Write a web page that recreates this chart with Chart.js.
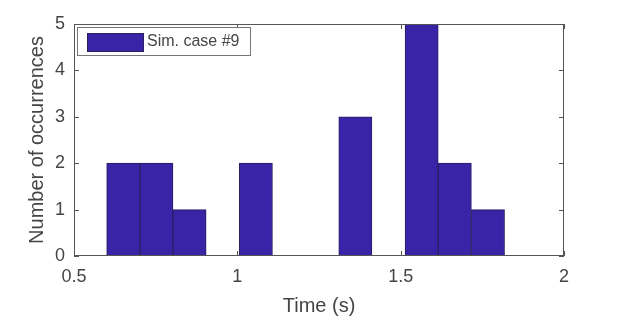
<!DOCTYPE html>
<html>
<head>
<meta charset="utf-8">
<script src="https://cdn.jsdelivr.net/npm/chart.js@4/dist/chart.umd.min.js"></script>
<style>
    html, body { margin: 0; padding: 0; background: #fff; }
    #wrap { width: 628px; height: 324px; }
</style>
</head>
<body>
<div id="wrap"><canvas id="chartCanvas" width="628" height="324"></canvas></div>
<script>
// histogram bins (left edges, seconds) and counts
const binStart = 0.6;
const binWidth = 0.1015;
const counts = [2, 2, 1, 0, 2, 0, 0, 3, 0, 5, 2, 1];
const seriesLabel = "Sim. case #9";
const xTicks = [0.5, 1, 1.5, 2];
const yTicks = [0, 1, 2, 3, 4, 5];

const barColor = "#3923a6";
const edgeColor = "#2a2060";
const axisColor = "#555555";
const textColor = "#454545";
const font = "'Liberation Sans', Arial, sans-serif";

const points = counts.map((c, i) => ({
    x: binStart + binWidth * (i + 0.5),
    y: c === 0 ? null : c
}));

// box + inward tick marks like matlab
const boxPlugin = {
    id: "box",
    afterDraw(chart) {
        const ctx = chart.ctx;
        const a = chart.chartArea;
        const xs = chart.scales.x;
        const ys = chart.scales.y;
        ctx.save();
        ctx.strokeStyle = axisColor;
        ctx.lineWidth = 1;
        ctx.strokeRect(a.left + 0.5, a.top + 0.5, a.right - a.left - 1, a.bottom - a.top - 1);
        ctx.beginPath();
        xTicks.forEach(v => {
            const px = Math.round(xs.getPixelForValue(v)) + 0.5;
            ctx.moveTo(px, a.bottom);
            ctx.lineTo(px, a.bottom - 5);
            ctx.moveTo(px, a.top);
            ctx.lineTo(px, a.top + 5);
        });
        yTicks.forEach(v => {
            const py = Math.round(ys.getPixelForValue(v)) + 0.5;
            ctx.moveTo(a.left, py);
            ctx.lineTo(a.left + 5, py);
            ctx.moveTo(a.right, py);
            ctx.lineTo(a.right - 5, py);
        });
        ctx.stroke();

        // legend inside the axes, top left
        const lx = a.left + 3, ly = a.top + 3, lw = 173, lh = 28;
        ctx.fillStyle = "#ffffff";
        ctx.fillRect(lx, ly, lw, lh);
        ctx.strokeStyle = "#777777";
        ctx.strokeRect(lx + 0.5, ly + 0.5, lw, lh);
        ctx.fillStyle = barColor;
        ctx.fillRect(lx + 10, ly + 6, 56, 18);
        ctx.strokeStyle = edgeColor;
        ctx.strokeRect(lx + 10.5, ly + 6.5, 56, 18);
        ctx.fillStyle = textColor;
        ctx.font = "16px " + font;
        ctx.textBaseline = "middle";
        ctx.fillText(seriesLabel, lx + 70, ly + 15);
        ctx.restore();
    }
};

const ctx = document.getElementById("chartCanvas").getContext("2d");

new Chart(ctx, {
    type: "bar",
    data: {
        datasets: [{
            label: seriesLabel,
            data: points,
            backgroundColor: barColor,
            borderColor: edgeColor,
            borderWidth: 1,
            borderSkipped: false,
            barPercentage: 1,
            categoryPercentage: 1
        }]
    },
    options: {
        responsive: false,
        animation: false,
        layout: { padding: { left: 0, right: 64, top: 24, bottom: 0 } },
        plugins: {
            legend: { display: false },
            tooltip: { enabled: false }
        },
        scales: {
            x: {
                type: "linear",
                min: 0.5,
                max: 2,
                offset: false,
                afterBuildTicks(scale) {
                    scale.ticks = xTicks.map(v => ({ value: v }));
                },
                afterFit(scale) { scale.height = 68; },
                ticks: {
                    color: textColor,
                    font: { family: font, size: 18 },
                    padding: 10,
                    maxRotation: 0,
                    callback: v => String(v)
                },
                grid: { display: false, drawTicks: false },
                border: { display: false },
                title: {
                    display: true,
                    text: "Time (s)",
                    color: textColor,
                    font: { family: font, size: 20 },
                    padding: { top: 0, bottom: 6 }
                }
            },
            y: {
                min: 0,
                max: 5,
                afterBuildTicks(scale) {
                    scale.ticks = yTicks.map(v => ({ value: v }));
                },
                afterFit(scale) { scale.width = 74; },
                ticks: {
                    color: textColor,
                    font: { family: font, size: 18 },
                    padding: 9
                },
                grid: { display: false, drawTicks: false },
                border: { display: false },
                title: {
                    display: true,
                    text: "Number of occurrences",
                    color: textColor,
                    font: { family: font, size: 20 },
                    padding: { top: 25, bottom: 0 }
                }
            }
        }
    },
    plugins: [boxPlugin]
});
</script>
</body>
</html>
